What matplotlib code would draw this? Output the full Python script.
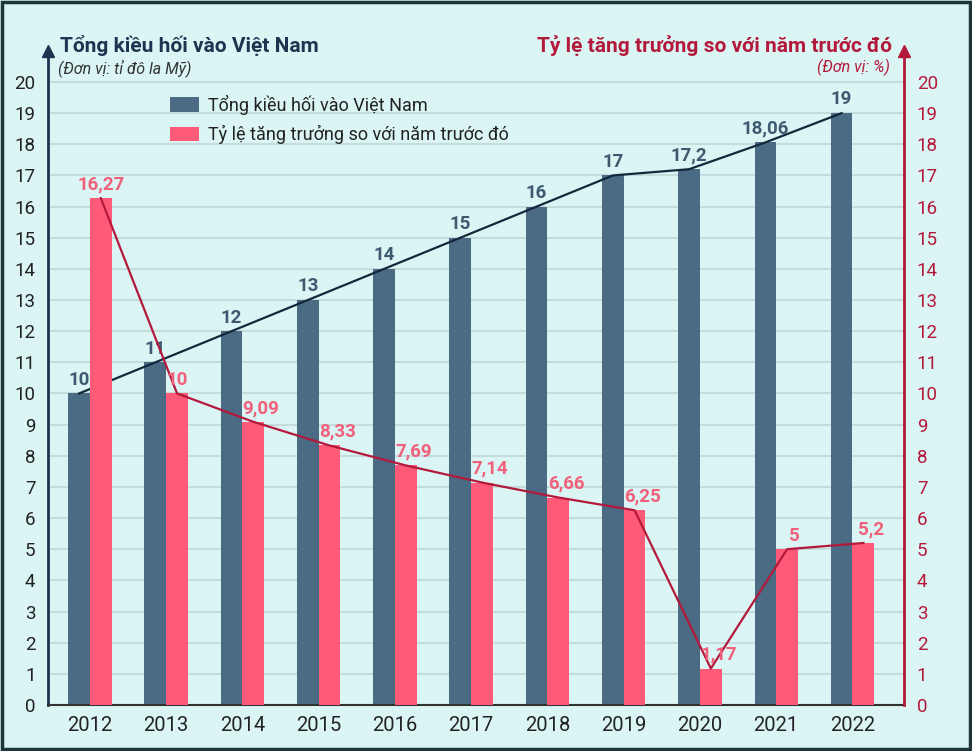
import matplotlib.pyplot as plt
from matplotlib.patches import Rectangle
import numpy as np

plt.rcParams['font.family'] = ['Roboto', 'DejaVu Sans']

years = [2012, 2013, 2014, 2015, 2016, 2017, 2018, 2019, 2020, 2021, 2022]
remit = [10, 11, 12, 13, 14, 15, 16, 17, 17.2, 18.06, 19]
growth = [16.27, 10, 9.09, 8.33, 7.69, 7.14, 6.66, 6.25, 1.17, 5, 5.2]
remit_lbl = ['10', '11', '12', '13', '14', '15', '16', '17', '17,2', '18,06', '19']
growth_lbl = ['16,27', '10', '9,09', '8,33', '7,69', '7,14', '6,66', '6,25', '1,17', '5', '5,2']

BG = '#dbf5f5'
BLUE = '#4b6a84'
PINK = '#ff5b78'
NAVY = '#1c3550'
RED = '#b3193b'
GRID = '#c4dcdc'

fig = plt.figure(figsize=(9.72, 7.51), dpi=100, facecolor=BG)
ax = fig.add_axes([0.0494, 0.0613, 0.881, 0.871])
ax.set_facecolor(BG)
ax2 = ax.twinx()

x = np.arange(len(years))
w = 0.285

ax.bar(x - w / 2, remit, w, color=BLUE, zorder=2, label='Tổng kiều hối vào Việt Nam')
ax2.bar(x + w / 2, growth, w, color=PINK, zorder=2, label='Tỷ lệ tăng trưởng so với năm trước đó')
ax.plot(x - w / 2, remit, color='#13283b', lw=1.6, zorder=3)
ax2.plot(x + w / 2, growth, color=RED, lw=1.6, zorder=3)

for xi, v, s in zip(x, remit, remit_lbl):
    ax.text(xi - w / 2, v + 0.15, s, ha='center', va='bottom', fontsize=13.5,
            fontweight='semibold', color='#3d5a70', zorder=4)
for i, (xi, v, s) in enumerate(zip(x, growth, growth_lbl)):
    dx = 0 if i < 2 else 0.1
    ax2.text(xi + w / 2 + dx, v + 0.15, s, ha='center', va='bottom', fontsize=13.5,
             fontweight='bold', color='#f0607a', zorder=4)

for a in (ax, ax2):
    a.set_ylim(0, 21)
    a.set_xlim(-0.55, len(years) - 1 + 0.68)
    a.set_yticks(range(0, 21))
    a.spines['top'].set_visible(False)

ax.yaxis.grid(True, color=GRID, lw=1.5, zorder=0)
ax.set_axisbelow(True)
ax.set_xticks(x)
ax.set_xticklabels([str(y) for y in years], fontsize=14.5, color='#222222')
ax.tick_params(axis='x', length=0, pad=8)
ax.tick_params(axis='y', length=0, labelsize=13.5, labelcolor='#222222', pad=9)
ax2.tick_params(axis='y', length=0, labelsize=13.5, labelcolor=RED, pad=9)

ax.spines['left'].set_color(NAVY)
ax.spines['left'].set_linewidth(2)
ax.spines['right'].set_visible(False)
ax.spines['bottom'].set_color('#333333')
ax.spines['bottom'].set_linewidth(1.5)
ax2.spines['left'].set_visible(False)
ax2.spines['bottom'].set_visible(False)
ax2.spines['right'].set_color(RED)
ax2.spines['right'].set_linewidth(2)

# axis arrows
ax.plot(0, 1.0, marker='^', ms=9, color=NAVY, transform=ax.transAxes, clip_on=False)
ax2.plot(1, 1.0, marker='^', ms=9, color=RED, transform=ax2.transAxes, clip_on=False)

fig.text(0.062, 0.94, 'Tổng kiều hối vào Việt Nam', fontsize=15, fontweight='bold',
         color=NAVY, ha='left', va='center')
fig.text(0.060, 0.91, '(Đơn vị: tỉ đô la Mỹ)', fontsize=11.5, style='italic',
         color='#333333', ha='left', va='center')
fig.text(0.918, 0.94, 'Tỷ lệ tăng trưởng so với năm trước đó', fontsize=15, fontweight='bold',
         color=RED, ha='right', va='center')
fig.text(0.916, 0.91, '(Đơn vị: %)', fontsize=11.5, style='italic',
         color=RED, ha='right', va='center')

h1, l1 = ax.get_legend_handles_labels()
h2, l2 = ax2.get_legend_handles_labels()
fig.legend(h1 + h2, l1 + l2, loc='upper left', bbox_to_anchor=(0.158, 0.895),
           frameon=False, fontsize=13, handlelength=1.6, handleheight=0.9,
           handletextpad=0.5, labelspacing=0.55, labelcolor='#222222')

fig.patches.append(Rectangle((0.002, 0.002), 0.996, 0.996, transform=fig.transFigure,
                             fill=False, edgecolor='#1e3535', lw=2.5))

fig.savefig('out.png', dpi=100, facecolor=BG)
